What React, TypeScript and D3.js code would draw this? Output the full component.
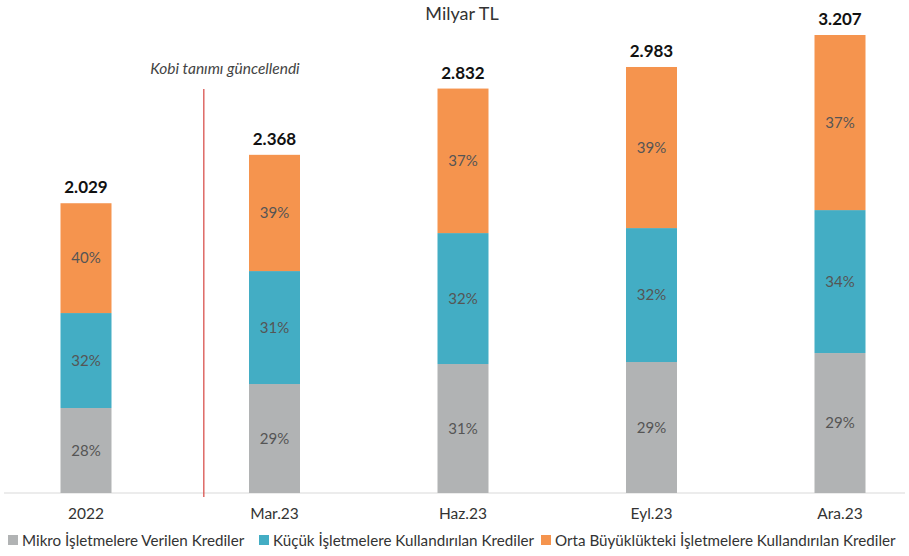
import React from "react";
import * as d3 from "d3";

const categories = ["2022", "Mar.23", "Haz.23", "Eyl.23", "Ara.23"];
const totals = [2029, 2368, 2832, 2983, 3207];
const totalLabels = ["2.029", "2.368", "2.832", "2.983", "3.207"];
const mikro = [595, 763, 903, 917, 980];
const kucuk = [665, 791, 917, 938, 1001];
const orta = [769, 814, 1012, 1128, 1226];
const mikroPct = ["28%", "29%", "31%", "29%", "29%"];
const kucukPct = ["32%", "31%", "32%", "32%", "34%"];
const ortaPct = ["40%", "39%", "37%", "39%", "37%"];
const seriesNames = [
  "Mikro İşletmelere Verilen Krediler",
  "Küçük İşletmelere Kullandırılan Krediler",
  "Orta Büyüklükteki İşletmelere Kullandırılan Krediler",
];
const colors = ["#b1b3b4", "#43adc4", "#f5944e"];
const title = "Milyar TL";
const annotation = "Kobi tanımı güncellendi";

const W = 909;
const H = 556;
const FONT = "Lato, 'Open Sans', sans-serif";

export default function App() {
  const x = d3.scalePoint<string>().domain(categories).range([86, 840]);
  const y = d3.scaleLinear().domain([0, 3207]).range([493, 35]);
  const barW = 51;

  const rows = categories.map((c, i) => ({
    cat: c,
    mikro: mikro[i],
    kucuk: kucuk[i],
    orta: orta[i],
  }));
  const keys = ["mikro", "kucuk", "orta"];
  const pcts = [mikroPct, kucukPct, ortaPct];
  const stack = d3.stack<any>().keys(keys)(rows);

  const step = x.step();
  const dividerX = (x("2022") as number) + step * 0.625;

  const legendX = [8, 259, 541];

  return (
    <svg width={W} height={H} style={{ position: "absolute", left: 0, top: 0, background: "#fff" }} fontFamily={FONT}>
      <text x={462} y={20} textAnchor="middle" fontSize={18} fill="#333">
        {title}
      </text>
      <line x1={4} x2={905} y1={y(0)} y2={y(0)} stroke="#d9d9d9" strokeWidth={1.2} />
      {stack.map((layer, li) => (
        <g key={li}>
          {layer.map((d, i) => {
            const cx = x(categories[i]) as number;
            const y0 = y(d[0]);
            const y1 = y(d[1]);
            return (
              <g key={i}>
                <rect x={cx - barW / 2} y={y1} width={barW} height={y0 - y1} fill={colors[li]} />
                <text x={cx} y={(y0 + y1) / 2 + 5} textAnchor="middle" fontSize={15} fill="#555">
                  {pcts[li][i]}
                </text>
              </g>
            );
          })}
        </g>
      ))}
      {categories.map((c, i) => (
        <text key={c} x={x(c) as number} y={y(totals[i]) - 10} textAnchor="middle" fontSize={17} fontWeight="bold" fill="#111">
          {totalLabels[i]}
        </text>
      ))}
      {categories.map((c) => (
        <text key={"l" + c} x={x(c) as number} y={519} textAnchor="middle" fontSize={15.5} fill="#333">
          {c}
        </text>
      ))}
      <line x1={dividerX} x2={dividerX} y1={89} y2={497} stroke="#d9534f" strokeWidth={1.3} />
      <text x={225} y={74} textAnchor="middle" fontSize={15.5} fontStyle="italic" fill="#444">
        {annotation}
      </text>
      {seriesNames.map((n, i) => (
        <g key={n}>
          <rect x={legendX[i]} y={535} width={10} height={10} fill={colors[i]} />
          <text x={legendX[i] + 14} y={545.5} fontSize={15.2} fill="#333">
            {n}
          </text>
        </g>
      ))}
    </svg>
  );
}
